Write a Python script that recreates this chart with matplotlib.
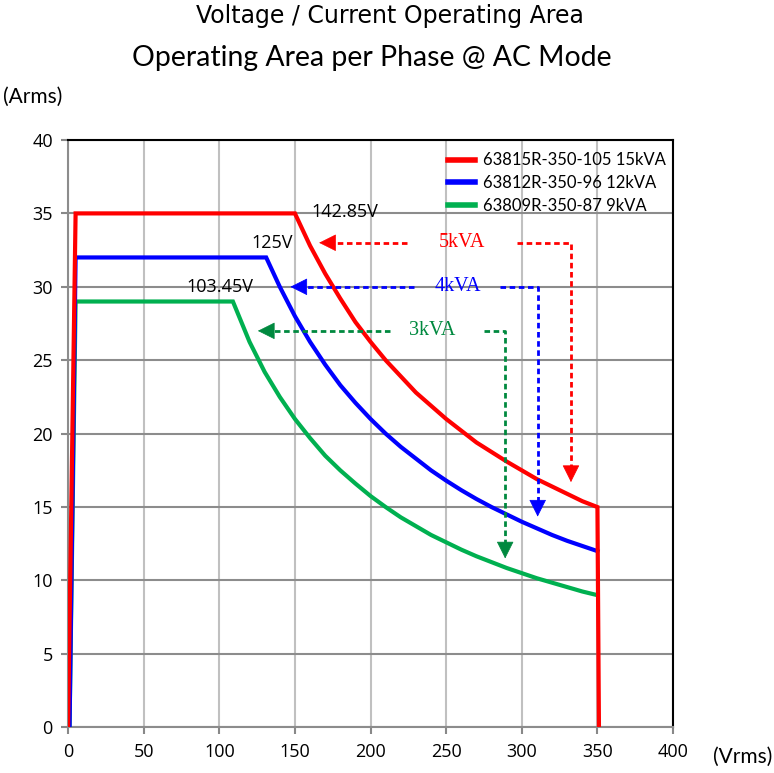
import matplotlib
matplotlib.use('Agg')
import matplotlib.pyplot as plt

# --- data ---
# 63815R-350-105 15kVA (red)
red_v = [0, 5, 150, 160, 170, 180, 190, 200, 210, 220, 230, 240, 250, 260, 270,
         280, 290, 300, 310, 320, 330, 340, 350, 351]
red_i = [0, 35, 35, 32.8, 30.9, 29.2, 27.6, 26.25, 25, 23.9, 22.8, 21.9, 21, 20.2,
         19.4, 18.75, 18.1, 17.5, 16.9, 16.4, 15.9, 15.4, 15, 0]
# 63812R-350-96 12kVA (blue)
blue_v = [1, 5, 131, 140, 150, 160, 170, 180, 190, 200, 210, 220, 230, 240, 250,
          260, 270, 280, 290, 300, 310, 320, 330, 340, 350]
blue_i = [0, 32, 32, 30, 28, 26.25, 24.7, 23.3, 22.1, 21, 20, 19.1, 18.3, 17.5,
          16.8, 16.15, 15.55, 15, 14.5, 14, 13.55, 13.1, 12.7, 12.35, 12]
# 63809R-350-87 9kVA (green)
green_v = [1, 5, 109, 120, 130, 140, 150, 160, 170, 180, 190, 200, 210, 220, 230,
           240, 250, 260, 270, 280, 290, 300, 310, 320, 330, 340, 350]
green_i = [0, 29, 29, 26.25, 24.2, 22.5, 21, 19.7, 18.5, 17.5, 16.6, 15.75, 15,
           14.3, 13.7, 13.1, 12.6, 12.1, 11.65, 11.25, 10.85, 10.5, 10.15, 9.85,
           9.55, 9.25, 9]

series_labels = ['63815R-350-105 15kVA', '63812R-350-96 12kVA', '63809R-350-87 9kVA']

# per-phase power annotations: label, y level, left tip, left start, text x,
# right start, corner x, down tip
kva_labels = ['5kVA', '4kVA', '3kVA']
kva_y = [33, 30, 27]
kva_tip_x = [166, 147, 125.5]
kva_start_x = [224, 229, 213]
kva_text_x = [260.5, 258, 241]
kva_right_x = [297, 285.5, 275]
kva_corner_x = [332.5, 310.5, 289]
kva_down_y = [16.7, 14.35, 11.5]

corner_labels = ['142.85V', '125V', '103.45V']
corner_x = [160.7, 135, 100.5]
corner_y = [35.1, 33, 30]

x_ticks = [0, 50, 100, 150, 200, 250, 300, 350, 400]
y_ticks = [0, 5, 10, 15, 20, 25, 30, 35, 40]

RED = '#ff0000'
BLUE = '#0000ff'
GREEN = '#00b050'
GREEN_DK = '#00893f'
arrow_cols = [RED, BLUE, GREEN_DK]

fig = plt.figure(figsize=(7.74, 7.73), dpi=100)
ax = fig.add_axes([0.0879, 0.0591, 0.7817, 0.7598])

l3, = ax.plot(green_v, green_i, color=GREEN, lw=3, zorder=3, solid_joinstyle='miter')
l2, = ax.plot(blue_v, blue_i, color=BLUE, lw=3, zorder=4, solid_joinstyle='miter')
l1, = ax.plot(red_v, red_i, color=RED, lw=3, zorder=5, solid_joinstyle='miter')

ax.set_xlim(0, 400)
ax.set_ylim(0, 40)
ax.set_xticks(x_ticks)
ax.set_yticks(y_ticks)
ax.tick_params(labelsize=13, color='#888888', length=5, width=1.5, pad=6)
ax.xaxis.grid(True, color='#c0c0c0', lw=1.5)
ax.yaxis.grid(True, color='#8c8c8c', lw=1.5)
ax.set_axisbelow(True)
for s in ['left', 'bottom']:
    ax.spines[s].set_color('#8c8c8c')
    ax.spines[s].set_linewidth(1.5)
for s in ['top', 'right']:
    ax.spines[s].set_color('black')
    ax.spines[s].set_linewidth(1.5)

dash = (0, (2, 1.3))
for i in range(3):
    c = arrow_cols[i]
    y = kva_y[i]
    # left dashed arrow
    ax.plot([kva_start_x[i], kva_tip_x[i] + 6], [y, y], color=c, lw=2, ls=dash, zorder=6)
    ax.annotate('', xy=(kva_tip_x[i], y), xytext=(kva_tip_x[i] + 9, y),
                arrowprops=dict(arrowstyle='-|>', color=c, lw=0.5,
                                mutation_scale=28, shrinkA=0, shrinkB=0), zorder=6)
    # right dashed elbow + down arrow
    ax.plot([kva_right_x[i], kva_corner_x[i], kva_corner_x[i]],
            [y, y, kva_down_y[i] + 0.7], color=c, lw=2, ls=dash, zorder=6)
    ax.annotate('', xy=(kva_corner_x[i], kva_down_y[i]),
                xytext=(kva_corner_x[i], kva_down_y[i] + 1.0),
                arrowprops=dict(arrowstyle='-|>', color=c, lw=0.5,
                                mutation_scale=28, shrinkA=0, shrinkB=0), zorder=6)
    ax.text(kva_text_x[i], y, kva_labels[i], color=c, fontsize=14.5,
            family='Liberation Serif', ha='center', va='center', zorder=7)

ax.text(corner_x[0], corner_y[0], corner_labels[0], fontsize=13, ha='left', va='center',
        family='Open Sans', zorder=7)
for i in [1, 2]:
    ax.text(corner_x[i], corner_y[i], corner_labels[i], fontsize=13, ha='center',
            va='center', family='Open Sans', zorder=7)

leg = ax.legend([l1, l2, l3], series_labels, loc='upper left',
                bbox_to_anchor=(0.615, 0.993), frameon=False, handlelength=1.6,
                handletextpad=0.45, labelspacing=0.4, borderpad=0,
                prop={'family': 'Lato', 'size': 12})
for h in leg.legend_handles:
    h.set_linewidth(4)

for tl in ax.get_xticklabels() + ax.get_yticklabels():
    tl.set_family('Open Sans')

fig.text(0.504, 0.979, 'Voltage / Current Operating Area', ha='center', va='center',
         fontsize=17, family='Liberation Sans Narrow')
fig.text(0.481, 0.925, 'Operating Area per Phase @ AC Mode', ha='center', va='center',
         fontsize=20.4, family='Lato')
fig.text(0.004, 0.875, '(Arms)', ha='left', va='center', fontsize=15, family='Lato')
fig.text(0.921, 0.021, '(Vrms)', ha='left', va='center', fontsize=15, family='Lato')

fig.savefig('out.png', dpi=100)
